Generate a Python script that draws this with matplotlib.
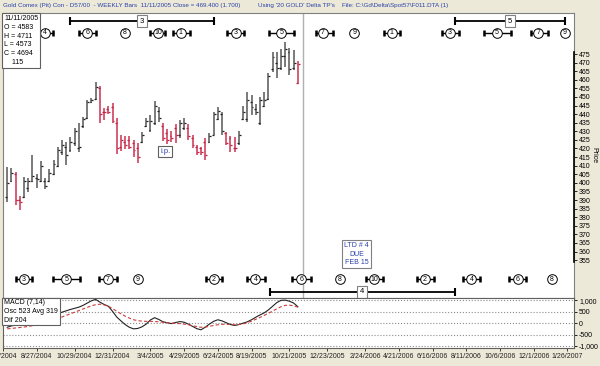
import numpy as np
import pandas as pd
import matplotlib
matplotlib.use("Agg")
import matplotlib.pyplot as plt

plt.rcParams['font.family'] = ['Liberation Sans', 'DejaVu Sans']

BG = '#ece9d8'
BAR_GRAY = '#707070'
BAR_RED = '#d4506c'
TXT_BLUE = '#2a40a8'

# weekly bars, first bar is week of 7/9/2004, last is 11/11/2005
first_bar = pd.Timestamp('2004-07-09')
highs = [409.4, 408.4, 406.5, 392.5, 403.5, 403.0, 416.2, 404.9, 412.7, 402.6,
         408.0, 413.1, 421.0, 424.9, 424.0, 426.8, 432.1, 434.6, 438.5, 448.2,
         449.2, 458.5, 456.6, 443.3, 444.9, 446.3, 437.9, 427.8, 427.4, 427.4,
         424.9, 423.0, 429.4, 437.9, 439.5, 447.6, 444.3, 434.6, 431.3, 430.2,
         434.0, 436.5, 437.9, 434.0, 427.8, 422.0, 421.0, 426.3, 428.8, 441.0,
         444.3, 441.4, 429.8, 427.4, 426.8, 430.1, 444.9, 452.7, 451.1, 445.7,
         450.1, 453.1, 463.7, 476.4, 476.0, 477.9, 481.8, 478.7, 477.3, 471.1]
lows = [388.6, 400.2, 387.0, 384.1, 390.9, 394.4, 400.6, 397.1, 400.2, 396.7,
        400.6, 404.5, 409.4, 416.2, 410.3, 418.1, 421.6, 418.1, 431.7, 437.1,
        446.3, 448.2, 434.6, 436.5, 439.9, 434.6, 416.6, 418.5, 419.7, 419.7,
        415.2, 411.3, 423.0, 432.7, 429.8, 433.6, 435.6, 424.3, 422.4, 423.9,
        423.0, 426.3, 430.7, 424.9, 420.1, 416.2, 416.2, 413.3, 423.0, 427.8,
        436.6, 427.8, 422.0, 418.1, 418.1, 422.0, 436.6, 435.6, 439.5, 439.5,
        433.6, 444.3, 448.2, 464.7, 461.2, 465.7, 467.6, 462.8, 465.7, 457.3]
opens = [392, 401, 405, 390, 392, 397, 401, 403, 401, 401,
         401, 405, 410, 418, 421, 419, 423, 420, 433, 438,
         447, 449, 455, 441, 443, 444, 435, 421, 424, 425,
         423, 420, 424, 433, 431, 435, 442, 433, 429, 427,
         432, 428, 432, 432, 426, 421, 420, 424, 424, 428,
         437, 440, 429, 426, 420, 423, 437, 437, 447, 443,
         435, 445, 449, 466, 470, 467, 474, 476, 467, 458.3]
closes = [400, 406, 390, 389, 401, 401, 404, 402, 410, 398,
          406, 411, 419, 422, 416, 424, 430, 421, 437, 447,
          448, 456, 440, 441, 441, 436, 420, 425, 422, 421,
          419, 415, 428, 436, 436, 445, 438, 426, 425, 426,
          428, 435, 435, 427, 422, 418, 418, 416, 427, 440,
          442, 430, 423, 422, 420, 428, 441, 448, 444, 441,
          448, 448, 462, 473, 467, 474, 478, 466, 470, 469.4]
red_bars = [2, 3, 22, 23, 24, 25, 26, 27, 28, 29, 30, 31, 37, 38, 39, 40,
            43, 44, 45, 46, 47, 52, 53, 54, 69]

macd = [-180, -120, -80, -90, -60, 0, 60, 140, 180, 240,
        300, 360, 420, 480, 540, 600, 650, 700, 780, 880,
        980, 1040, 920, 820, 740, 520, 270, 100, -60, -180,
        -250, -230, -160, -40, 140, 240, 160, 60, 20, -20,
        30, 70, 40, -40, -140, -240, -290, -180, -40, 80,
        150, 100, 20, -60, -100, -60, 0, 60, 150, 260,
        360, 450, 580, 740, 900, 1000, 1010, 960, 880, 720]
signal = [-250, -230, -210, -190, -170, -140, -110, -80, -40, 0,
          60, 130, 200, 270, 340, 410, 480, 550, 620, 690,
          760, 810, 830, 800, 740, 640, 520, 410, 310, 220,
          150, 110, 90, 80, 80, 70, 60, 40, 20, 0,
          -10, -20, -40, -70, -110, -150, -180, -170, -140, -100,
          -70, -50, -50, -60, -70, -60, -30, 20, 90, 170,
          250, 340, 430, 530, 630, 720, 780, 790, 760, 700]

date_labels = ['7/2/2004', '8/27/2004', '10/29/2004', '12/31/2004', '3/4/2005',
               '4/29/2005', '6/24/2005', '8/19/2005', '10/21/2005', '12/23/2005',
               '2/24/2006', '4/21/2006', '6/16/2006', '8/11/2006', '10/6/2006',
               '12/1/2006', '1/26/2007']

# cycle markers: (week, label, bracket start, bracket end) - None = no bracket
top_cycles = [(9.0, '4', 7.0, 10.9), (19.0, '6', 17.0, 21.1), (28.0, '8', None, None),
              (35.9, '10', 33.9, 37.4), (41.2, '1', 39.3, 43.3), (54.2, '3', 52.1, 56.3),
              (65.1, '5', 62.2, 68.2), (74.9, '7', 73.4, 77.4), (82.4, '9', None, None),
              (91.3, '1', 89.4, 93.2), (105.1, '3', 103.3, 107.2), (116.3, '5', 113.1, 119.5),
              (126.1, '7', 124.3, 128.4), (132.3, '9', None, None)]
bottom_cycles = [(4.0, '3', 2.0, 6.0), (14.0, '5', 10.9, 17.2), (23.9, '7', 21.8, 26.1),
                 (31.0, '9', None, None), (49.1, '2', 47.1, 50.9), (58.9, '4', 57.0, 61.1),
                 (69.8, '6', 67.5, 72.2), (79.0, '8', None, None), (87.1, '10', 85.2, 89.1),
                 (99.1, '2', 97.2, 101.2), (110.2, '4', 108.3, 112.2), (121.2, '6', 119.2, 123.2),
                 (129.3, '8', None, None)]
# long cycle brackets: (start, end, label)
long_top = [(14.9, 49.2, '3'), (106.2, 132.5, '5')]
long_bottom = [(62.3, 106.2, '4')]

n = len(highs)
x = np.arange(n)

fig = plt.figure(figsize=(6, 3.66), dpi=100, facecolor=BG)
ax = fig.add_axes([0.005, 0.187, 0.952, 0.7775])
ax2 = fig.add_axes([0.005, 0.0505, 0.952, 0.1366], sharex=ax)

# OHLC bars
bar_cols = [BAR_RED if i in red_bars else BAR_GRAY for i in range(n)]
tick_cols = ['#c02040' if i in red_bars else '#202020' for i in range(n)]
ax.vlines(x, lows, highs, colors=bar_cols, lw=1.3, zorder=2)
ax.hlines(opens, x - 0.45, x, colors=tick_cols, lw=0.9, zorder=3)
ax.hlines(closes, x, x + 0.45, colors=tick_cols, lw=0.9, zorder=3)

ax.axvline(70.2, color='#b0b0b0', lw=1.0, zorder=1)

ax.set_xlim(-0.4, 134.6)
ax.set_ylim(333.2, 498.9)
ax.set_facecolor('white')


def cycle_row(items, y):
    for c, lab, a, b in items:
        if a is not None:
            ax.plot([a, b], [y, y], color='black', lw=1.0, zorder=3)
            ax.plot([a, b], [y, y], ls='none', marker='|', ms=5, mew=1.8,
                    color='black', zorder=3)
        ax.scatter([c], [y], s=48, facecolor='white', edgecolor='black',
                   lw=0.7, zorder=4)
        ax.text(c, y, lab, ha='center', va='center', fontsize=5, zorder=5)


def long_row(items, y):
    for a, b, lab in items:
        ax.plot([a, b], [y, y], color='black', lw=1.3, zorder=3)
        ax.plot([a, b], [y, y], ls='none', marker='|', ms=6, mew=1.5,
                color='black', zorder=3)
        ax.text((a + b) / 2, y, lab, ha='center', va='center', fontsize=5.5, zorder=5,
                bbox=dict(boxstyle='square,pad=0.35', fc='white', ec='#808080', lw=0.8))


cycle_row(top_cycles, 487.4)
cycle_row(bottom_cycles, 343.8)
long_row(long_top, 494.2)
long_row(long_bottom, 336.6)

ax.text(37.5, 418.2, 'i.p.', ha='center', va='center', fontsize=5.5, color=TXT_BLUE,
        bbox=dict(boxstyle='square,pad=0.25', fc='white', ec='#606060', lw=0.8))
ax.text(82.9, 358.5, 'LTD # 4\nDUE\nFEB 15', ha='center', va='center', fontsize=5,
        color=TXT_BLUE, linespacing=1.25,
        bbox=dict(boxstyle='square,pad=0.3', fc='white', ec='#808080', lw=0.8))

# price axis on the right
ax.yaxis.tick_right()
ax.set_yticks(np.arange(355, 476, 5))
ax.tick_params(axis='y', labelsize=5, length=2, pad=1.5, width=0.6)
ax.tick_params(axis='x', bottom=False, labelbottom=False)
for s in ['top', 'left', 'bottom']:
    ax.spines[s].set_color('#808080')
    ax.spines[s].set_linewidth(0.8)
ax.spines['right'].set_color('#808080')
ax.plot([1.0, 1.0], [354, 476], color='black', lw=1.2,
        transform=ax.get_yaxis_transform(), clip_on=False, zorder=6)
fig.text(0.99, 1 - 155 / 366, 'Price', rotation=270, ha='center', va='center',
         fontsize=5)

# MACD panel
ax2.plot(x, macd, color='#222222', lw=0.8)
ax2.plot(x, signal, color='#d03c3c', lw=0.8, ls=(0, (3, 2)))
ax2.set_ylim(-1066, 1123)
ax2.set_yticks([-1000, -500, 0, 500, 1000])
ax2.set_yticklabels(['-1,000', '-500', '0', '500', '1,000'])
ax2.yaxis.tick_right()
ax2.yaxis.grid(True, ls=':', color='#8c8c8c', lw=0.8)
ax2.tick_params(axis='y', labelsize=5, length=2, pad=1.5, width=0.6)
ax2.set_facecolor('white')
for s in ['top', 'left', 'bottom', 'right']:
    ax2.spines[s].set_color('#606060')
    ax2.spines[s].set_linewidth(0.8)

tick_pos = (pd.to_datetime(date_labels, format='%m/%d/%Y') - first_bar).days / 7
ax2.set_xticks(tick_pos)
ax2.set_xticklabels(date_labels)
ax2.tick_params(axis='x', labelsize=5, length=2, pad=2, width=0.6, colors='#222222')

# info boxes
fig.text(0.007, 1 - 15 / 366, '11/11/2005\nO = 4583\nH = 4711\nL = 4573\nC = 4694\n    115',
         ha='left', va='top', fontsize=5, linespacing=1.35,
         bbox=dict(boxstyle='square,pad=0.3', fc='white', ec='#606060', lw=0.8))
fig.text(0.007, 1 - 299.5 / 366, 'MACD (7,14)\nOsc 523 Avg 319\nDif 204',
         ha='left', va='top', fontsize=5, linespacing=1.3,
         bbox=dict(boxstyle='square,pad=0.25', fc='white', ec='#606060', lw=0.8))

# title strip
fig.text(0.005, 1 - 6 / 366,
         'Gold Comex (Pit) Con - D57/00  - WEEKLY Bars  11/11/2005 Close = 469.400 (1.700)',
         ha='left', va='center', fontsize=4.5, color=TXT_BLUE)
fig.text(258 / 600, 1 - 6 / 366, "Using '20 GOLD' Delta TP's",
         ha='left', va='center', fontsize=4.5, color=TXT_BLUE)
fig.text(342 / 600, 1 - 6 / 366, 'File: C:\\Gd\\Delta\\Spot57\\F011.DTA (1)',
         ha='left', va='center', fontsize=4.5, color=TXT_BLUE)

fig.savefig('out.png', dpi=100, facecolor=BG)
